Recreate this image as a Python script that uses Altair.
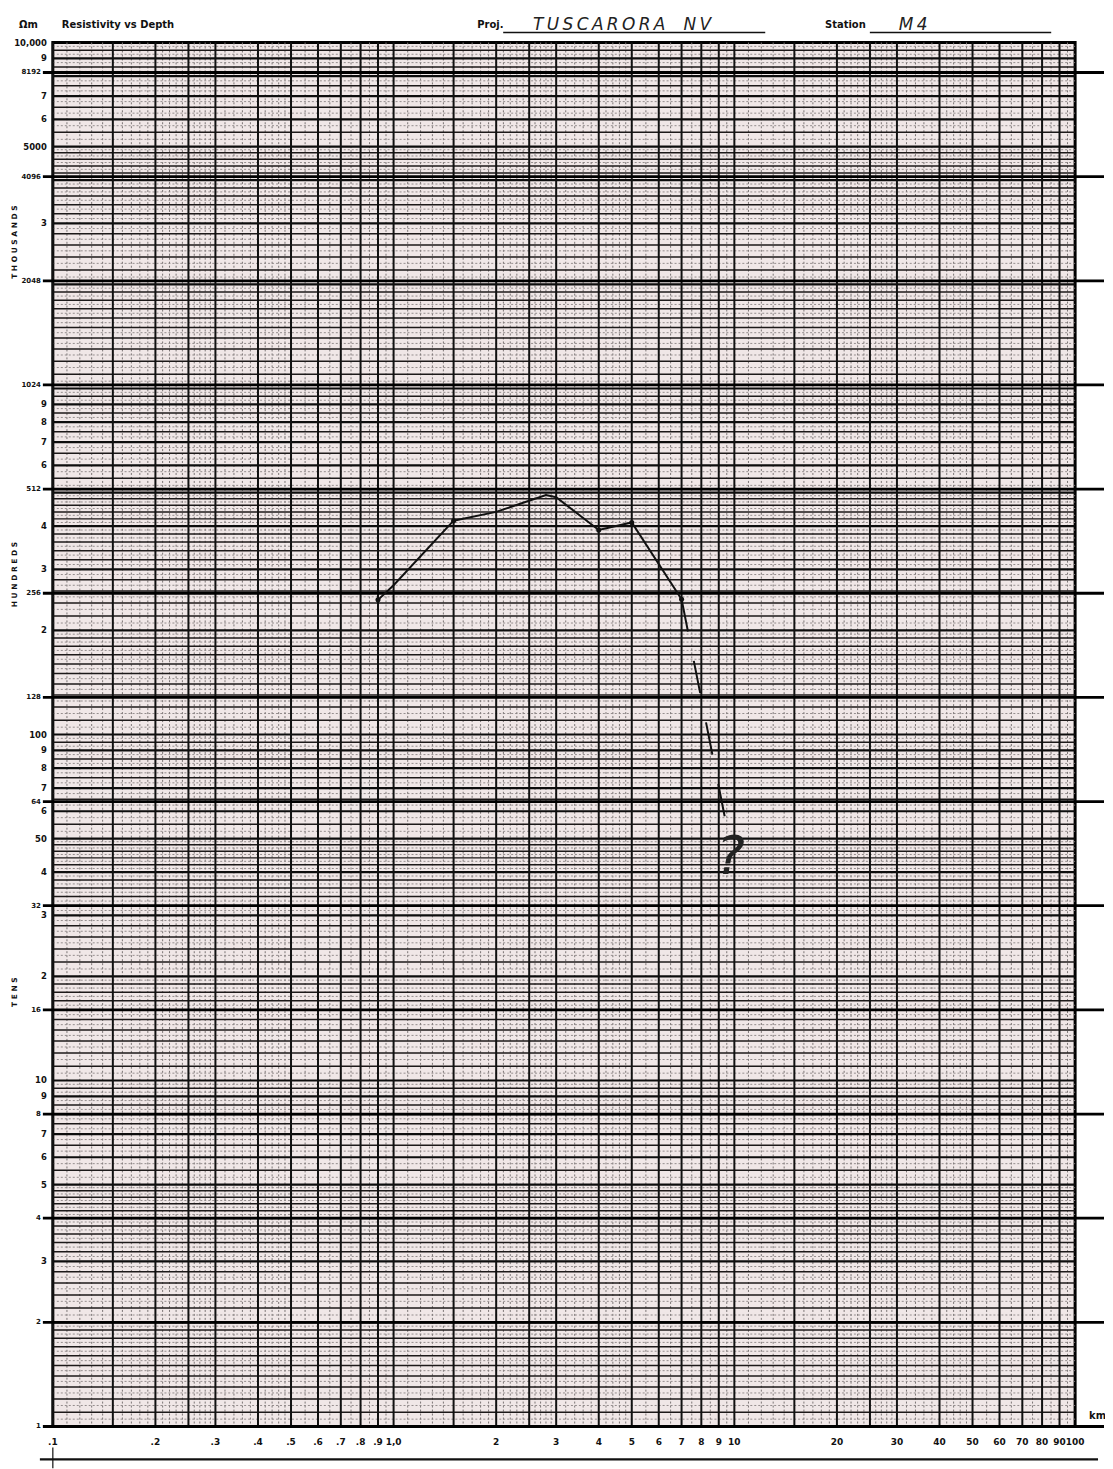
import altair as alt
import pandas as pd

W, H = 1026, 1389

# ---- measured data (depth km, apparent resistivity ohm-m) ----
X_KM = [0.9, 1.0, 1.5, 2.0, 2.8, 3.0, 4.0, 5.0, 7.0]
RHO = [245, 270, 415, 440, 492, 485, 390, 410, 246]
DOT_X = [0.9, 1.5, 4.0, 5.0, 7.0]
DOT_Y = [245, 415, 390, 410, 246]
DASH_X = [7.0, 9.4]
DASH_Y = [246, 57]
QMARK_X = [9.75]
QMARK_Y = [44]

# ---- graph paper rulings ----
X_DECADES = [0.1, 1, 10]
Y_DECADES = [1, 10, 100, 1000]
V_MAJOR_MANT = [1, 1.5, 2, 2.5, 3, 4, 5, 6, 7, 8, 9]
V_LIGHT_MANT = [1.1, 1.2, 1.3, 1.4, 1.6, 1.7, 1.8, 1.9, 2.1, 2.2, 2.3, 2.4,
                2.6, 2.7, 2.8, 2.9, 3.2, 3.4, 3.6, 3.8, 4.2, 4.4, 4.6, 4.8,
                5.5, 6.5, 7.5, 8.5, 9.5]
H_MAJOR_MANT = [1, 2, 3, 4, 5, 6, 7, 8, 9]
H_MED_MANT = [1.1, 1.2, 1.3, 1.4, 1.5, 1.6, 1.7, 1.8, 1.9,
              2.2, 2.4, 2.6, 2.8, 3.2, 3.4, 3.6, 3.8, 4.2, 4.4, 4.6, 4.8,
              5.5, 6.5, 7.5, 8.5, 9.5]
H_LIGHT_MANT = [1.05, 1.15, 1.25, 1.35, 1.45, 1.55, 1.65, 1.75, 1.85, 1.95,
                2.1, 2.3, 2.5, 2.7, 2.9, 3.1, 3.3, 3.5, 3.7, 3.9,
                4.1, 4.3, 4.5, 4.7, 4.9, 5.25, 5.75, 6.25, 6.75, 7.25,
                7.75, 8.25, 8.75, 9.25, 9.75]
POW2 = [1, 2, 4, 8, 16, 32, 64, 128, 256, 512, 1024, 2048, 4096, 8192]
POW2_TEXT = ["1", "2", "4", "8", "16", "32", "64", "128", "256", "512",
             "1024", "2048", "4096", "8192"]

# ---- tick labels ----
Y_LABEL_VALUES = [10000, 9000, 7000, 6000, 5000, 3000, 900, 800, 700, 600,
                  400, 300, 200, 100, 90, 80, 70, 60, 50, 40, 30, 20, 10, 9,
                  7, 6, 5, 3]
Y_LABEL_TEXT = ["10,000", "9", "7", "6", "5000", "3", "9", "8", "7", "6",
                "4", "3", "2", "100", "9", "8", "7", "6", "50", "4", "3", "2",
                "10", "9", "7", "6", "5", "3"]
X_LABEL_VALUES = [0.1, 0.2, 0.3, 0.4, 0.5, 0.6, 0.7, 0.8, 0.9, 1.0,
                  2, 3, 4, 5, 6, 7, 8, 9, 10,
                  20, 30, 40, 50, 60, 70, 80, 90, 100]
X_LABEL_TEXT = [".1", ".2", ".3", ".4", ".5", ".6", ".7", ".8", ".9", "1,0",
                "2", "3", "4", "5", "6", "7", "8", "9", "10",
                "20", "30", "40", "50", "60", "70", "80", "90", "100"]
SIDE_TEXT = ["T H O U S A N D S", "H U N D R E D S", "T E N S"]
SIDE_Y = [2650, 290, 18.0]


def expand(mants, decades, limit):
    out = []
    for d in decades:
        for m in mants:
            v = round(m * d, 6)
            if v <= limit:
                out.append(v)
    return out


xs = alt.Scale(type="log", domain=[0.1, 100], nice=False)
ys = alt.Scale(type="log", domain=[1, 10000], nice=False)

FONT = "DejaVu Sans"


def vrules(vals, color, width, dash=None):
    kw = dict(color=color, strokeWidth=width)
    if dash:
        kw["strokeDash"] = dash
    return alt.Chart(pd.DataFrame({"v": vals})).mark_rule(**kw).encode(
        x=alt.X("v:Q", scale=xs, axis=None),
        y=alt.value(0), y2=alt.value(H))


def hrules(vals, color, width, x0=0, x1=W, dash=None):
    kw = dict(color=color, strokeWidth=width)
    if dash:
        kw["strokeDash"] = dash
    return alt.Chart(pd.DataFrame({"v": vals})).mark_rule(**kw).encode(
        y=alt.Y("v:Q", scale=ys, axis=None),
        x=alt.value(x0), x2=alt.value(x1))


layers = []
layers.append(vrules(expand(V_LIGHT_MANT, X_DECADES, 100), "#7a7474", 1, [2, 2]))
layers.append(hrules(expand(H_LIGHT_MANT, Y_DECADES, 10000), "#8a8383", 0.9, dash=[2, 2]))
layers.append(hrules(expand(H_MED_MANT, Y_DECADES, 10000), "#1c1919", 1.5))
layers.append(hrules(expand(H_MAJOR_MANT, Y_DECADES, 10000), "#0d0d0d", 2.2))
layers.append(vrules(expand(V_MAJOR_MANT, X_DECADES, 100), "#111", 2))
layers.append(hrules(POW2, "#000", 2.8, x0=-10, x1=W + 29))

# data curve
curve = pd.DataFrame({"x": X_KM, "y": RHO})
layers.append(alt.Chart(curve).mark_line(color="#111", strokeWidth=2).encode(
    x=alt.X("x:Q", scale=xs, axis=None), y=alt.Y("y:Q", scale=ys, axis=None)))
layers.append(alt.Chart(pd.DataFrame({"x": DOT_X, "y": DOT_Y})).mark_point(
    filled=True, color="#111", size=26, opacity=1).encode(
    x=alt.X("x:Q", scale=xs, axis=None), y=alt.Y("y:Q", scale=ys, axis=None)))
layers.append(alt.Chart(pd.DataFrame({"x": DASH_X, "y": DASH_Y})).mark_line(
    color="#111", strokeWidth=2, strokeDash=[33, 30]).encode(
    x=alt.X("x:Q", scale=xs, axis=None), y=alt.Y("y:Q", scale=ys, axis=None)))
layers.append(alt.Chart(pd.DataFrame({"x": QMARK_X, "y": QMARK_Y, "t": ["?"]})).mark_text(
    font=FONT, fontSize=54, fontStyle="italic", fontWeight="normal", color="#222",
    baseline="middle").encode(
    x=alt.X("x:Q", scale=xs, axis=None), y=alt.Y("y:Q", scale=ys, axis=None), text="t:N"))

# y labels
layers.append(alt.Chart(pd.DataFrame({"v": Y_LABEL_VALUES, "t": Y_LABEL_TEXT})).mark_text(
    font=FONT, fontSize=8.5, fontWeight="bold", align="right", baseline="middle", color="#111").encode(
    y=alt.Y("v:Q", scale=ys, axis=None), x=alt.value(-6), text="t:N"))
layers.append(alt.Chart(pd.DataFrame({"v": POW2, "t": POW2_TEXT})).mark_text(
    font=FONT, fontSize=7, fontWeight="bold", align="right", baseline="middle", color="#111").encode(
    y=alt.Y("v:Q", scale=ys, axis=None), x=alt.value(-12), text="t:N"))
layers.append(alt.Chart(pd.DataFrame({"v": SIDE_Y, "t": SIDE_TEXT})).mark_text(
    font=FONT, fontSize=7.5, fontWeight="bold", angle=270, align="center", baseline="middle", color="#111").encode(
    y=alt.Y("v:Q", scale=ys, axis=None), x=alt.value(-38), text="t:N"))

# x labels
layers.append(alt.Chart(pd.DataFrame({"v": X_LABEL_VALUES, "t": X_LABEL_TEXT})).mark_text(
    font=FONT, fontSize=9, fontWeight="bold", align="center", baseline="middle", color="#111").encode(
    x=alt.X("v:Q", scale=xs, axis=None), y=alt.value(H + 16), text="t:N"))

# bottom base line and small tick
layers.append(alt.Chart(pd.DataFrame({"v": [0.1]})).mark_rule(color="#111", strokeWidth=2.5).encode(
    x=alt.value(-13), x2=alt.value(W + 23), y=alt.value(H + 33)))
layers.append(alt.Chart(pd.DataFrame({"v": [0.1]})).mark_rule(color="#111", strokeWidth=1.2).encode(
    x=alt.X("v:Q", scale=xs, axis=None), y=alt.value(H + 21), y2=alt.value(H + 42)))

# header texts
HEADER_TEXT = ["Ωm", "Resistivity vs Depth", "Proj.", "Station", "km"]
HEADER_X = [-34, 9, 426, 775, 1040]
HEADER_Y = [-18, -18, -18, -18, H - 11]
for t, x, y in zip(HEADER_TEXT, HEADER_X, HEADER_Y):
    layers.append(alt.Chart(pd.DataFrame({"t": [t]})).mark_text(
        font=FONT, fontSize=10, fontWeight="bold", align="left", baseline="middle", color="#111").encode(
        x=alt.value(x), y=alt.value(y), text="t:N"))

HAND_TEXT = ["T\u2009U\u2009S\u2009C\u2009A\u2009R\u2009O\u2009R\u2009A", "N\u2009V", "M\u20094"]
HAND_X = [482, 633, 849]
for t, x in zip(HAND_TEXT, HAND_X):
    layers.append(alt.Chart(pd.DataFrame({"t": [t]})).mark_text(
        font=FONT, fontSize=17, fontStyle="italic", align="left", baseline="alphabetic", color="#222").encode(
        x=alt.value(x), y=alt.value(-13), text="t:N"))

UNDER_X0 = [452, 820]
UNDER_X1 = [715, 1002]
for a, b in zip(UNDER_X0, UNDER_X1):
    layers.append(alt.Chart(pd.DataFrame({"v": [0]})).mark_rule(color="#111", strokeWidth=1.5).encode(
        x=alt.value(a), x2=alt.value(b), y=alt.value(-10)))

chart = alt.layer(*layers).properties(
    width=W, height=H,
    padding={"left": 45, "top": 32, "right": 30, "bottom": 40},
    autosize=alt.AutoSizeParams(type="none"),
    background="white",
).configure_view(fill="#f0e7e7", stroke="#000", strokeWidth=3)

chart.save("out.html", embed_options={"renderer": "svg", "actions": False})
